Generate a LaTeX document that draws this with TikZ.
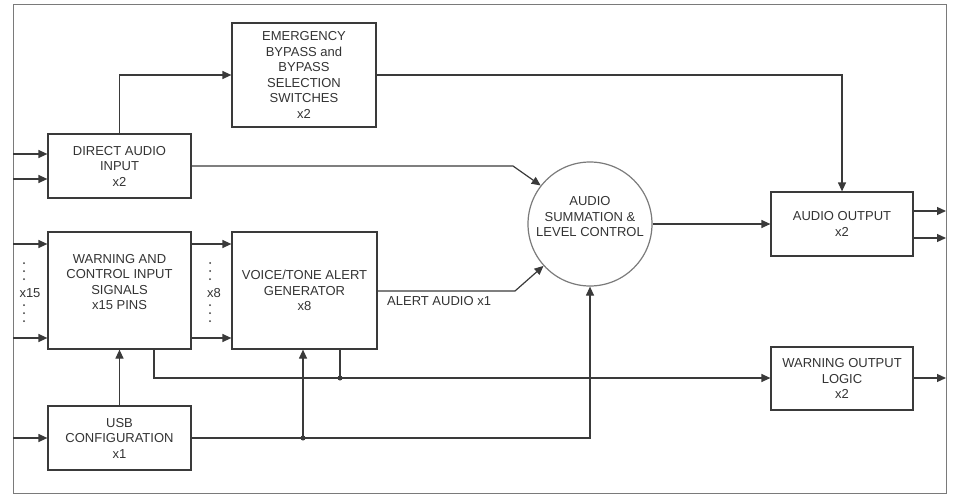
\documentclass[tikz,border=0pt]{standalone}
\usepackage{fontspec}
\setmainfont{Liberation Sans}
\usetikzlibrary{arrows.meta,calc}
\definecolor{ln}{HTML}{3A3A3A}
\definecolor{txt}{HTML}{333333}
\definecolor{frm}{HTML}{7A7A7A}
\tikzset{
  blk/.style={draw=ln, line width=1.2pt, align=center, inner sep=0pt, text=txt,
    font=\fontsize{13}{15.5}\selectfont},
  conn/.style={draw=ln, line width=1.2pt},
  arr/.style={conn, -{Triangle[length=9pt,width=8pt]}},
  jdot/.style={circle, fill=ln, inner sep=0pt, minimum size=5pt},
  lbl/.style={text=txt, font=\fontsize{13}{15.5}\selectfont, inner sep=0pt}
}
\begin{document}
\begin{tikzpicture}[x=1pt,y=-1pt]
\useasboundingbox (0,0) rectangle (955,495);
\draw[frm, line width=1pt] (13,5) rectangle (946,493);

\node[blk, minimum width=144pt, minimum height=104pt] (emerg) at (304,75)
  {EMERGENCY\\BYPASS and\\BYPASS\\SELECTION\\SWITCHES\\x2};
\node[blk, minimum width=143pt, minimum height=64pt] (direct) at (119.5,166)
  {DIRECT AUDIO\\INPUT\\x2};
\node[blk, minimum width=143pt, minimum height=117pt] (warn) at (119.5,290.5)
  {WARNING AND\\CONTROL INPUT\\SIGNALS\\x15 PINS\\[2pt]};
\node[blk, minimum width=145pt, minimum height=117pt] (voice) at (304.5,290.5)
  {VOICE/TONE ALERT\\GENERATOR\\x8};
\node[blk, minimum width=143pt, minimum height=64pt] (usb) at (119.5,438)
  {USB\\CONFIGURATION\\x1};
\node[blk, minimum width=142pt, minimum height=64pt] (aout) at (842,224)
  {AUDIO OUTPUT\\x2};
\node[blk, minimum width=142pt, minimum height=63pt] (wout) at (842,378.5)
  {WARNING OUTPUT\\LOGIC\\x2};
\node[blk, circle, draw=frm, minimum size=124pt] (sum) at (590,224) {};
\node[lbl, align=center] (sumtxt) at (590,217) {AUDIO\\SUMMATION \&\\LEVEL CONTROL};

% input coordinates on frame
\coordinate (in1) at (13,154);
\coordinate (in2) at (13,179);
\coordinate (in3) at (13,244);
\coordinate (in4) at (13,338);
\coordinate (in5) at (13,438);
\coordinate (out1) at (946,211);
\coordinate (out2) at (946,238);
\coordinate (out3) at (946,378);

\draw[arr] (in1) -- (in1 -| direct.west);
\draw[arr] (in2) -- (in2 -| direct.west);
\draw[arr] (in3) -- (in3 -| warn.west);
\draw[arr] (in4) -- (in4 -| warn.west);
\draw[arr] (in5) -- (in5 -| usb.west);

\draw[arr] (warn.east |- in3) -- (voice.west |- in3);
\draw[arr] (warn.east |- in4) -- (voice.west |- in4);

% dots and counts
\foreach \y in {263,271,279,305,313,321}{
  \fill[ln] (24,\y) circle (1pt);
  \fill[ln] (210,\y) circle (1pt);
}
\node[lbl] (x15) at (30,293) {x15};
\node[lbl] (x8) at (214,293) {x8};

% direct audio to emergency
\draw[arr] (direct.north) |- (emerg.west);
\draw[arr] (emerg.east) -| (aout.north);

% direct audio to summation
\coordinate (b1) at (513,166);
\draw[arr] (direct.east) -- (b1) -- (sum.142);

% voice to summation
\coordinate (b2) at (515,291);
\draw[arr] (voice.east |- b2) -- (b2) -- (sum.222);
\node[lbl, anchor=west] (alert) at (387,301) {ALERT AUDIO x1};

\draw[arr] (sum.east) -- (sum.east -| aout.west);
\draw[arr] (aout.east |- out1) -- (out1);
\draw[arr] (aout.east |- out2) -- (out2);

% usb
\draw[arr] (usb.north) -- (warn.south);
\coordinate (j1) at (303,438);
\draw[arr] (usb.east) -- (j1) -| (sum.south);
\draw[arr] (j1) -- (j1 |- voice.south);
\node[jdot] (j1d) at (j1) {};

% warning bus
\coordinate (c1) at (154,378);
\coordinate (j2) at (340,378);
\draw[arr] (c1 |- warn.south) -- (c1) -- (wout.west |- c1);
\draw[conn] (j2 |- voice.south) -- (j2);
\node[jdot] (j2d) at (j2) {};
\draw[arr] (wout.east |- out3) -- (out3);
\end{tikzpicture}
\end{document}
